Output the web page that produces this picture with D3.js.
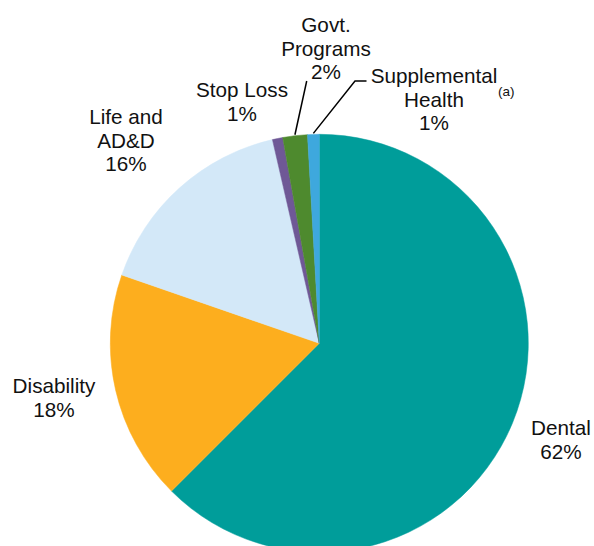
<!DOCTYPE html>
<html>
<head>
<meta charset="utf-8">
<script src="https://cdn.jsdelivr.net/npm/d3@7"></script>
<style>
  html, body { margin: 0; padding: 0; background: #fff; }
  svg { display: block; }
  text { font-family: "Liberation Sans", Arial, sans-serif; fill: #111; }
</style>
</head>
<body>
<svg id="chart" width="594" height="546"></svg>
<script>
// ---- data ----
const categories = ["Dental", "Disability", "Life and AD&D", "Stop Loss", "Govt. Programs", "Supplemental Health"];
const values = [62.5, 17.8, 16.1, 0.8, 1.9, 0.9];
const percentLabels = ["62%", "18%", "16%", "1%", "2%", "1%"];
const labelLines = [["Dental"], ["Disability"], ["Life and", "AD&D"], ["Stop Loss"], ["Govt.", "Programs"], ["Supplemental", "Health"]];
const colors = ["#009D9A", "#FDAE1E", "#D3E8F8", "#6F5896", "#4E8A2E", "#3EA8DD"];

// ---- layout ----
const cx = 319.3, cy = 343.3, R = 209;
const fontSize = 20.7, lineH = 23.5;
// label anchor: center x, baseline of first line
const labelPos = [
  {x: 561, y: 435},
  {x: 54, y: 393},
  {x: 126, y: 124},
  {x: 242, y: 97},
  {x: 326, y: 32},
  {x: 434, y: 83}
];

const svg = d3.select("#chart");
const g = svg.append("g").attr("transform", `translate(${cx},${cy})`);

const pie = d3.pie().sort(null).value(d => d).startAngle(0).endAngle(2 * Math.PI);
const arcs = pie(values);
const arc = d3.arc().innerRadius(0).outerRadius(R);

g.selectAll("path.slice")
  .data(arcs)
  .join("path")
  .attr("class", "slice")
  .attr("d", arc)
  .attr("fill", (d, i) => colors[i])
  .attr("stroke", (d, i) => colors[i])
  .attr("stroke-width", 0.5);

// labels
const labels = svg.append("g");
categories.forEach((c, i) => {
  const lines = labelLines[i].concat([percentLabels[i]]);
  const t = labels.append("text")
    .attr("text-anchor", "middle")
    .attr("font-size", fontSize);
  lines.forEach((ln, j) => {
    t.append("tspan").attr("x", labelPos[i].x).attr("y", labelPos[i].y + j * lineH).text(ln);
  });
});

// footnote marker
svg.append("text")
  .attr("x", 498).attr("y", 96)
  .attr("font-size", 13.5)
  .text("(a)");

// leader lines: from arc midpoint outward to label
function arcPoint(d, r) {
  const a = (d.startAngle + d.endAngle) / 2;
  return [cx + r * Math.sin(a), cy - r * Math.cos(a)];
}
const govt = arcPoint(arcs[4], R + 1);
svg.append("path")
  .attr("d", d3.line()([govt, [306.7, 81]]))
  .attr("fill", "none").attr("stroke", "#000").attr("stroke-width", 1.5);
const supp = arcPoint(arcs[5], R + 1);
svg.append("path")
  .attr("d", d3.line()([supp, [355, 81], [366.5, 81]]))
  .attr("fill", "none").attr("stroke", "#000").attr("stroke-width", 1.5);
</script>
</body>
</html>
